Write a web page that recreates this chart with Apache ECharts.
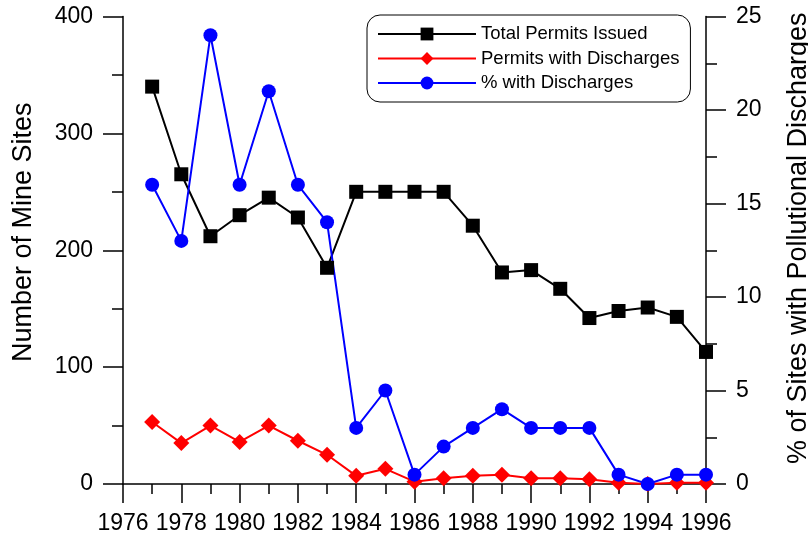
<!DOCTYPE html>
<html>
<head>
<meta charset="utf-8">
<script src="https://cdn.jsdelivr.net/npm/echarts@6/dist/echarts.min.js"></script>
<style>
  html, body { margin: 0; padding: 0; background: #fff; }
  #chart { width: 808px; height: 538px; }
</style>
</head>
<body>
<div id="chart"></div>
<script>
// years on the x axis
var years = [1977, 1978, 1979, 1980, 1981, 1982, 1983, 1984, 1985, 1986,
             1987, 1988, 1989, 1990, 1991, 1992, 1993, 1994, 1995, 1996];
// number of mine sites (left axis)
var totalPermits = [340, 265, 212, 230, 245, 228, 185, 250, 250, 250,
                    250, 221, 181, 183, 167, 142, 148, 151, 143, 113];
var permitsWithDischarges = [53, 35, 50, 36, 50, 37, 25, 7, 13, 2,
                             5, 7, 8, 5, 5, 4, 1, 0, 1, 1];
// percent with discharges (right axis)
var pctWithDischarges = [16, 13, 24, 16, 21, 16, 14, 3, 5, 0.5,
                         2, 3, 4, 3, 3, 3, 0.5, 0, 0.5, 0.5];

var FONT = "'Liberation Sans', Arial, sans-serif";

function pairs(vals) {
  var out = [];
  for (var i = 0; i < years.length; i++) {
    out.push([years[i], vals[i]]);
  }
  return out;
}

var myChart = echarts.init(document.getElementById("chart"), null, { renderer: "canvas" });

var axisCommon = {
  axisLine: { show: true, lineStyle: { color: "#000", width: 1.5 } },
  axisTick: { show: true, inside: false, length: 20, lineStyle: { color: "#000", width: 1.5 } },
  minorTick: { show: true, splitNumber: 2, length: 11, lineStyle: { color: "#000", width: 1.5 } },
  splitLine: { show: false },
  minorSplitLine: { show: false },
  axisLabel: { color: "#000", fontSize: 23, fontFamily: FONT, margin: 30 }
};

var option = {
  animation: false,
  textStyle: { fontFamily: FONT },
  grid: {
    left: 123, right: 102, top: 16.5, bottom: 54,
    containLabel: false,
    outerBoundsMode: "none"
  },
  legend: {
    orient: "vertical",
    left: 367,
    top: 15,
    padding: [9.5, 11, 9.5, 10],
    itemWidth: 98,
    itemHeight: 16,
    itemGap: 5.5,
    borderColor: "#000",
    borderWidth: 1,
    borderRadius: 13,
    textStyle: { color: "#000", fontSize: 18.5, fontFamily: FONT },
    data: ["Total Permits Issued", "Permits with Discharges", "% with Discharges"]
  },
  xAxis: {
    type: "value",
    min: 1976,
    max: 1996,
    interval: 2,
    axisLine: axisCommon.axisLine,
    axisTick: { show: true, inside: false, length: 19, lineStyle: { color: "#000", width: 1.5 } },
    minorTick: { show: true, splitNumber: 2, length: 10, lineStyle: { color: "#000", width: 1.5 } },
    splitLine: { show: false },
    minorSplitLine: { show: false },
    axisLabel: {
      color: "#000", fontSize: 23, fontFamily: FONT, margin: 28,
      formatter: function (v) { return String(v); }
    }
  },
  yAxis: [
    Object.assign({}, axisCommon, {
      type: "value",
      position: "left",
      min: 0,
      max: 400,
      interval: 100,
      name: "Number of Mine Sites",
      nameLocation: "middle",
      nameRotate: 90,
      nameGap: 86,
      nameTextStyle: { color: "#000", fontSize: 27, fontFamily: FONT, padding: [0, 0, 0, 36] }
    }),
    Object.assign({}, axisCommon, {
      type: "value",
      position: "right",
      min: 0,
      max: 25,
      interval: 5,
      name: "% of Sites with Pollutional Discharges",
      nameLocation: "middle",
      nameRotate: 90,
      nameGap: 79,
      nameTextStyle: { color: "#000", fontSize: 27, fontFamily: FONT, padding: [0, 0, 0, 24] }
    })
  ],
  series: [
    {
      name: "Total Permits Issued",
      type: "line",
      yAxisIndex: 0,
      data: pairs(totalPermits),
      symbol: "rect",
      symbolSize: 14,
      lineStyle: { color: "#000", width: 2 },
      itemStyle: { color: "#000" }
    },
    {
      name: "Permits with Discharges",
      type: "line",
      yAxisIndex: 0,
      data: pairs(permitsWithDischarges),
      symbol: "diamond",
      symbolSize: 16,
      lineStyle: { color: "#ff0000", width: 2 },
      itemStyle: { color: "#ff0000" }
    },
    {
      name: "% with Discharges",
      type: "line",
      yAxisIndex: 1,
      data: pairs(pctWithDischarges),
      symbol: "circle",
      symbolSize: 14,
      lineStyle: { color: "#0000ff", width: 2 },
      itemStyle: { color: "#0000ff" }
    }
  ]
};

myChart.setOption(option);
</script>
</body>
</html>
